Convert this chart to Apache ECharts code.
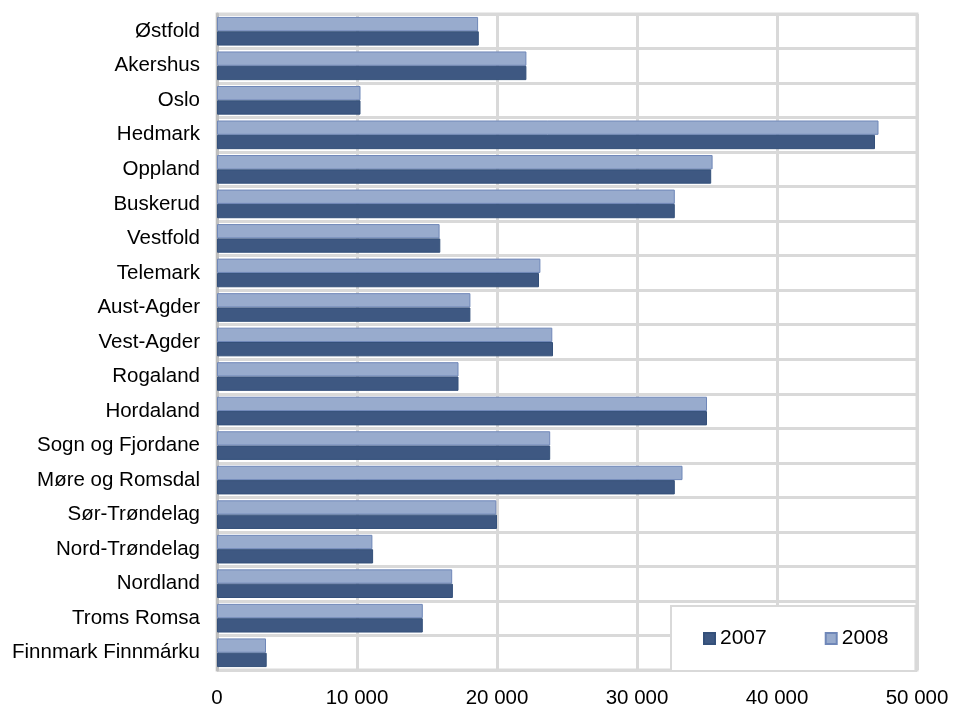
<!DOCTYPE html>
<html>
<head>
<meta charset="utf-8">
<script src="https://cdn.jsdelivr.net/npm/echarts@6/dist/echarts.min.js"></script>
<style>
html,body{margin:0;padding:0;background:#fff;}
#c{width:955px;height:711px;}
</style>
</head>
<body>
<div id="c"></div>
<script>
const categories = ["Østfold","Akershus","Oslo","Hedmark","Oppland","Buskerud","Vestfold","Telemark","Aust-Agder","Vest-Agder","Rogaland","Hordaland","Sogn og Fjordane","Møre og Romsdal","Sør-Trøndelag","Nord-Trøndelag","Nordland","Troms Romsa","Finnmark Finnmárku"];
const values2007 = [18700,22100,10250,47000,35300,32700,15950,23000,18100,24000,17250,35000,23800,32700,20000,11150,16850,14700,3550];
const values2008 = [18650,22100,10250,47250,35400,32700,15900,23100,18100,23950,17250,35000,23800,33250,19950,11100,16800,14700,3500];
const xTicks = {min:0, max:50000, interval:10000};

const chart = echarts.init(document.getElementById('c'), null, {renderer:'canvas'});
const font = 'Liberation Sans, Arial, sans-serif';
chart.setOption({
  animation:false,
  backgroundColor:'#fff',
  grid:{left:217,right:38,top:14,bottom:41,show:true,borderColor:'#d9d9d9',borderWidth:3,backgroundColor:'#fff'},
  legend:{
    data:['2007','2008'],
    left:671, top:606,
    padding:[22,27,22,32],
    itemGap:58, itemWidth:11, itemHeight:11, icon:'rect',
    backgroundColor:'#fff', borderColor:'#d9d9d9', borderWidth:2,
    textStyle:{fontFamily:font,fontSize:21,color:'#000'}
  },
  xAxis:{
    type:'value', min:xTicks.min, max:xTicks.max, interval:xTicks.interval,
    axisLine:{show:false}, axisTick:{show:false},
    axisLabel:{fontFamily:font,fontSize:20.5,color:'#000',margin:18,
      formatter:v=>String(v).replace(/\B(?=(\d{3})+(?!\d))/g,' ')},
    splitLine:{show:true,lineStyle:{color:'#d9d9d9',width:3}}
  },
  yAxis:{
    type:'category', data:categories, inverse:true,
    axisLine:{show:true,lineStyle:{color:'#bfbfbf',width:3}}, axisTick:{show:false},
    axisLabel:{fontFamily:font,fontSize:20.5,color:'#000',margin:17},
    splitLine:{show:true,interval:0,lineStyle:{color:'#d9d9d9',width:3}}
  },
  series:[
    {name:'2008',type:'bar',data:values2008,barGap:'0%',barCategoryGap:'17%',
      itemStyle:{color:'#98abcd',borderColor:'#6f87b8',borderWidth:1}},
    {name:'2007',type:'bar',data:values2007,barGap:'0%',barCategoryGap:'17%',
      itemStyle:{color:'#3e5882',borderColor:'#34507a',borderWidth:1}}
  ]
});
</script>
</body>
</html>
